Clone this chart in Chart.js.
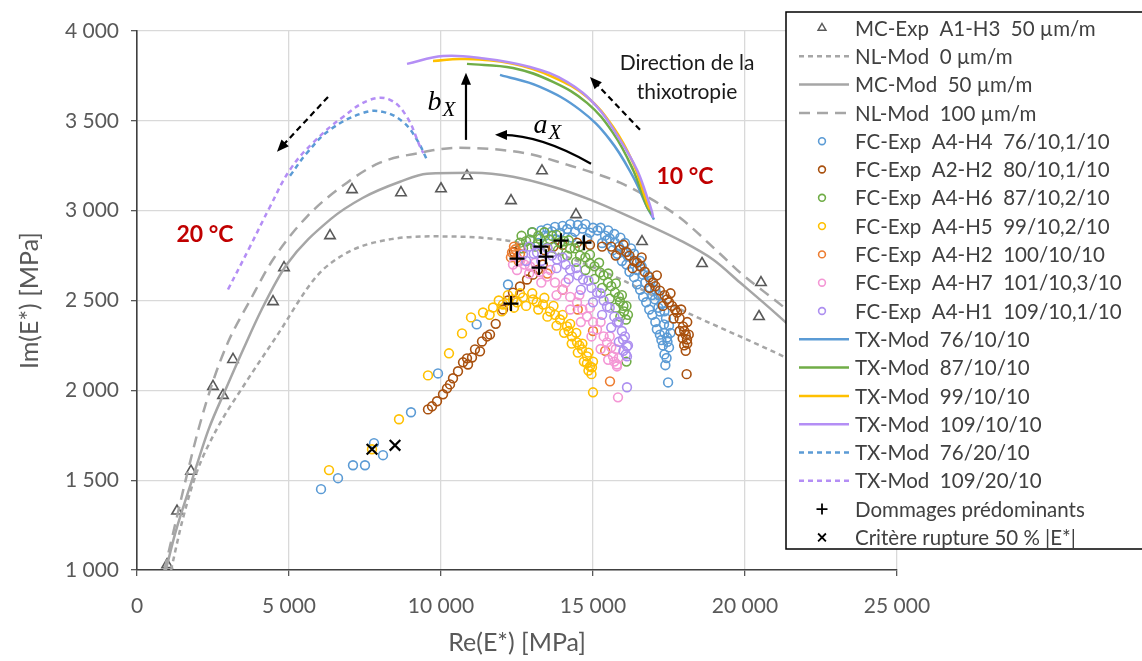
<!DOCTYPE html>
<html><head><meta charset="utf-8">
<script src="https://cdn.jsdelivr.net/npm/chart.js@4.4.1/dist/chart.umd.min.js"></script>
<style>html,body{margin:0;padding:0;background:#fff}canvas{display:block}</style>
</head><body>
<canvas id="c" width="1142" height="661"></canvas>
<script>
// ---------- tick labels ----------
const xTicks = [0, 5000, 10000, 15000, 20000, 25000];
const yTicks = [1000, 1500, 2000, 2500, 3000, 3500, 4000];

// ---------- legend labels ----------
const labels = [
  'MC-Exp  A1-H3  50 µm/m', 'NL-Mod  0 µm/m', 'MC-Mod  50 µm/m', 'NL-Mod  100 µm/m',
  'FC-Exp  A4-H4  76/10,1/10', 'FC-Exp  A2-H2  80/10,1/10', 'FC-Exp  A4-H6  87/10,2/10',
  'FC-Exp  A4-H5  99/10,2/10', 'FC-Exp  A4-H2  100/10/10', 'FC-Exp  A4-H7  101/10,3/10',
  'FC-Exp  A4-H1  109/10,1/10', 'TX-Mod  76/10/10', 'TX-Mod  87/10/10', 'TX-Mod  99/10/10',
  'TX-Mod  109/10/10', 'TX-Mod  76/20/10', 'TX-Mod  109/20/10',
  'Dommages prédominants', 'Critère rupture 50 % |E*|'
];

// ---------- series values [Re, Im] ----------
const mcExp = [[990,1030],[1316,1328],[1776,1550],[2500,2022],[2829,1972],[3158,2172],[4474,2494],[4836,2683],
  [6349,2861],[7072,3117],[8684,3100],[10000,3122],[10855,3194],[12303,3056],[13322,3222],[14441,2978],
  [16612,2828],[18586,2706],[20526,2600],[20461,2411]];
const nlMod0 = [[1120,1000],[1500,1280],[1963,1543],[2620,1783],[3487,2020],[4595,2302],[5910,2635],
  [6898,2765],[7993,2830],[9638,2857],[11283,2850],[12368,2828],[13500,2780],[14500,2720],[15500,2650],
  [16500,2570],[17204,2506],[18092,2433],[18947,2367],[19836,2300],[21000,2210],[22500,2090]];
const mcMod50 = [[950,1000],[1250,1200],[1810,1500],[2350,1780],[2928,2010],[3500,2230],[4101,2450],[4924,2700],
  [6349,2950],[7434,3072],[8651,3161],[9539,3206],[11053,3211],[12368,3189],[13684,3133],[14901,3061],
  [16217,2965],[17862,2835],[18947,2728],[19836,2600],[21000,2430],[22500,2200]];
const nlMod100 = [[900,1000],[1250,1250],[1600,1500],[2050,1800],[2500,2050],[3000,2270],[3717,2500],[4474,2728],
  [5592,2967],[6908,3156],[7993,3267],[9309,3322],[10526,3350],[11941,3339],[13026,3311],[14145,3256],
  [15000,3211],[15888,3156],[16776,3078],[17862,2960],[19178,2760],[19836,2656],[21000,2500],[22500,2300]];

const fcH4 = [[12928,2839],[13421,2861],[13914,2878],[14408,2883],[14901,2878],[15395,2861],[15724,2822],[16053,2772],
  [16382,2717],[16645,2644],[16875,2572],[17039,2506],[17204,2439],[17336,2367],[17434,2294],[17500,2239],
  [13000,2880],[13500,2900],[14000,2915],[14500,2920],[15000,2905],[15500,2890],[15900,2850],[16250,2790],
  [16550,2720],[16800,2640],[17050,2560],[17250,2480],[17400,2400],[17550,2320],
  [13200,2820],[13800,2840],[14300,2850],[14800,2845],[15300,2820],[15650,2780],[15950,2720],[16200,2660],
  [16450,2590],[16650,2520],[16850,2450],[17050,2380],[17200,2310],[17300,2250],[17350,2200],
  [13650,2885],[14150,2898],[14650,2900],[15150,2890],[15550,2845],[15850,2800],[16150,2745],[16450,2670],
  [16720,2600],[16950,2530],[17150,2460],[17350,2320],[17450,2270],[17420,2180],
  [13300,2890],[13750,2910],[14250,2925],[14750,2925],[15250,2905],[15700,2870],[16050,2820],[16350,2760],
  [16600,2690],[16900,2610],[17150,2530],[17350,2440],[17500,2360],[15450,2835],[15800,2760],[16100,2700],
  [16350,2630],[16550,2560],[16750,2490],[16950,2420],[17100,2340],[17250,2280],[17380,2140],
  [17470,2044],[12204,2589],[11174,2367],[9901,2094],[9013,1878],[8092,1639],[7796,1706],[7500,1583],
  [7105,1583],[6612,1511],[6053,1450]];
const fcH2a = [[9572,1894],[9704,1911],[9868,1939],[10066,1978],[10197,2011],[10296,2033],[10395,2067],[10559,2106],
  [10724,2156],[10888,2144],[10855,2178],[11020,2183],[11118,2228],[11283,2217],[11349,2272],[11513,2300],
  [11612,2311],[11800,2370],[12039,2450],[12200,2500],[12368,2544],[12599,2578],[12829,2617],[13026,2644],
  [13191,2672],[13350,2700],[12400,2770],[12600,2790],[13400,2780],[13700,2800],[14000,2810],[14474,2822],
  [14901,2810],[15300,2800],
  [15888,2783],[16200,2750],[16447,2711],[16700,2660],[16974,2600],[17200,2555],[17434,2506],[17600,2470],
  [17763,2433],[17961,2356],[18092,2283],[18050,2310],
  [16000,2810],[16600,2740],[17100,2640],[17550,2540],[17900,2450],[18100,2380],[18150,2310],
  [15750,2750],[16300,2680],[16850,2570],[17300,2470],[17650,2400],[17850,2330],[17950,2290],[18000,2250],
  [15600,2800],[16100,2770],[16350,2720],[16550,2690],[16850,2630],[17050,2580],[17350,2530],[17500,2490],
  [17700,2450],[17850,2400],[18000,2330],[18100,2260],[18050,2220],
  [18080,2090]];
const fcH6 = [[12599,2822],[12928,2839],[13257,2844],[13586,2839],[13914,2822],[14243,2789],[14572,2750],[14901,2706],
  [15230,2656],[15493,2600],[15724,2544],[15888,2494],[16020,2439],[16086,2394],
  [12650,2860],[13000,2880],[13400,2880],[13800,2865],[14200,2835],[14550,2800],[14900,2755],[15200,2710],
  [15500,2650],[15750,2595],[15950,2530],[16100,2470],[16150,2420],
  [12700,2790],[13100,2800],[13500,2795],[13850,2780],[14150,2750],[14450,2715],[14750,2670],[15050,2620],
  [15300,2570],[15550,2510],[15750,2460],[15900,2410],
  [12800,2830],[13200,2860],[13650,2860],[14050,2830],[14400,2790],[14750,2740],[15050,2690],[15350,2640],
  [15600,2580],[15850,2520],[16000,2470],[16100,2160]];
const fcH5 = [[6316,1556],[7730,1672],[8618,1839],[9572,2083],[10263,2206],[10691,2317],[10987,2406],
  [11382,2433],[11711,2461],[12039,2478],[12368,2506],[12697,2517],[13026,2506],[13355,2478],[13586,2439],
  [13914,2394],[14145,2356],[14309,2300],[14474,2267],[14638,2228],[14803,2189],[14901,2133],[14967,2128],
  [11600,2420],[12000,2440],[12400,2460],[12800,2470],[13200,2450],[13500,2410],[13800,2360],[14050,2320],
  [14300,2260],[14500,2210],[14700,2160],[14850,2110],
  [12200,2530],[12600,2540],[13000,2540],[13400,2515],[13700,2470],[14000,2420],[14250,2370],[14450,2320],
  [14650,2260],[14850,2210],[15000,2160],
  [11900,2500],[12500,2490],[13150,2490],[13750,2420],[14200,2330],[14550,2250],[14800,2150],[14950,2090],
  [15000,1989]];
const fcH2b = [[12336,2767],[12500,2739],[12400,2800],[12550,2720],[12300,2740],[12600,2760],[12450,2785],
  [13500,2650],[14000,2560],[14500,2450],[15000,2330],[15400,2220],[15559,2050]];
const fcH7 = [[12368,2700],[12928,2689],[13487,2633],[14013,2561],[14474,2489],[14803,2411],[15132,2339],[15461,2267],
  [15658,2189],[15789,2144],[15789,2133],
  [12600,2720],[13100,2710],[13600,2670],[14100,2600],[14550,2530],[14900,2460],[15250,2380],[15550,2300],
  [15750,2230],[15850,2180],
  [12500,2670],[12900,2650],[13300,2600],[13800,2530],[14250,2450],[14600,2380],[14950,2300],[15250,2230],
  [15500,2170],[12750,2700],[13250,2660],[13750,2600],[14250,2520],[14650,2450],[15000,2380],[15350,2300],
  [15600,2240],[15700,2160],[15822,1961]];
const fcH1 = [[12697,2756],[13158,2767],[13816,2728],[14243,2672],[14671,2617],[15132,2544],[15461,2467],[15789,2378],
  [15987,2283],[16118,2244],[16118,2189],
  [12900,2800],[13500,2790],[14000,2740],[14450,2680],[14850,2610],[15250,2540],[15550,2460],[15850,2380],
  [16050,2300],[16150,2250],
  [12800,2720],[13300,2720],[13800,2680],[14200,2620],[14600,2560],[15000,2490],[15300,2420],[15600,2350],
  [15850,2270],[16000,2220],[13050,2760],[13650,2750],[14100,2700],[14500,2640],[14950,2570],[15350,2500],
  [15700,2410],[15950,2330],[16080,2200],[16118,2017]];

const tx76_10 = [[11941,3756],[13257,3689],[14572,3561],[15559,3394],[16316,3189],[16776,3022],[17007,2950]];
const tx87_10 = [[10855,3817],[12368,3794],[13684,3717],[14803,3600],[15658,3433],[16316,3228],[16776,3022],[16941,2978]];
const tx99_10 = [[9737,3833],[10724,3844],[12368,3817],[13684,3744],[14803,3633],[15658,3467],[16316,3267],[16776,3044],[16875,3006]];
const tx109_10 = [[8882,3817],[10066,3861],[11283,3850],[12928,3800],[14145,3717],[15132,3578],[15888,3394],[16447,3228],[16776,3078],[16941,2994],[16974,2961]];
const tx76_20 = [[5033,3194],[5592,3322],[6349,3450],[7434,3544],[8092,3550],[8750,3494],[9211,3394],[9539,3283]];
const tx109_20 = [[2993,2561],[3717,2800],[4375,3022],[5033,3228],[5789,3378],[6776,3522],[7664,3617],[8322,3617],[8871,3524],[9309,3357],[9419,3320]];

const dommages = [[12500,2733],[13289,2800],[13454,2744],[13224,2683],[13947,2833],[14704,2822],[12303,2483]];
const rupture = [[7730,1672],[8487,1694]];

// ---------- styles ----------
const GRAY = '#a6a6a6';
const C = {blue:'#5b9bd5', brown:'#a9510f', green:'#70ad47', yellow:'#ffc000', orange:'#ed7d31',
  pink:'#f497d5', purple:'#ad8ff0', txPurple:'#b48ef5'};

const pts = a => a.map(p => ({x:p[0], y:p[1]}));
function lineDS(i, data, color, dash, smooth){
  const d = {label:labels[i], data:pts(data), showLine:true, borderColor:color, borderWidth:2.5,
    borderDash:dash||[], pointRadius:0, fill:false, order:100-i};
  if (smooth === 'mono') d.cubicInterpolationMode = 'monotone'; else d.tension = 0.4;
  return d;
}
function scatDS(i, data, color, style, r, bw){
  return {label:labels[i], data:pts(data), showLine:false, borderColor:color, backgroundColor:'rgba(0,0,0,0)',
    pointStyle:style, pointRadius:r, borderWidth:bw, order:100-i};
}
const datasets = [
  scatDS(0, mcExp, '#595959', 'triangle', 6, 1.6),
  lineDS(1, nlMod0, GRAY, [5,4], 'mono'),
  lineDS(2, mcMod50, GRAY, [], 'mono'),
  lineDS(3, nlMod100, GRAY, [11,7], 'mono'),
  scatDS(4, fcH4, C.blue, 'circle', 4.4, 1.6),
  scatDS(5, fcH2a, C.brown, 'circle', 4.4, 1.6),
  scatDS(6, fcH6, C.green, 'circle', 4.4, 1.6),
  scatDS(7, fcH5, C.yellow, 'circle', 4.4, 1.6),
  scatDS(8, fcH2b, C.orange, 'circle', 4.4, 1.6),
  scatDS(9, fcH7, C.pink, 'circle', 4.4, 1.6),
  scatDS(10, fcH1, C.purple, 'circle', 4.4, 1.6),
  lineDS(11, tx76_10, C.blue, []),
  lineDS(12, tx87_10, C.green, []),
  lineDS(13, tx99_10, C.yellow, []),
  lineDS(14, tx109_10, C.txPurple, []),
  lineDS(15, tx76_20, C.blue, [5,4]),
  lineDS(16, tx109_20, C.txPurple, [5,4]),
  scatDS(17, dommages, '#000', 'cross', 7.5, 2.2),
  scatDS(18, rupture, '#000', 'crossRot', 7.5, 2.2),
];

// legend description
const legendItems = [
  {m:'triangle', c:'#595959'}, {l:[5,4], c:GRAY}, {l:[], c:GRAY}, {l:[11,7], c:GRAY},
  {m:'circle', c:C.blue}, {m:'circle', c:C.brown}, {m:'circle', c:C.green}, {m:'circle', c:C.yellow},
  {m:'circle', c:C.orange}, {m:'circle', c:C.pink}, {m:'circle', c:C.purple},
  {l:[], c:C.blue}, {l:[], c:C.green}, {l:[], c:C.yellow}, {l:[], c:C.txPurple},
  {l:[5,4], c:C.blue}, {l:[5,4], c:C.txPurple}, {m:'cross', c:'#000'}, {m:'crossRot', c:'#000'}
];

const FONT = 'Lato, "Open Sans", sans-serif';
const fmt = v => String(v).replace(/\B(?=(\d{3})+(?!\d))/g, ' ');

function arrow(ctx, x1, y1, x2, y2, dash, cx, cy){
  ctx.save();
  ctx.strokeStyle = '#000'; ctx.fillStyle = '#000'; ctx.lineWidth = 2.2;
  ctx.setLineDash(dash || []);
  ctx.beginPath(); ctx.moveTo(x1, y1);
  let ang;
  const hl = 12;
  if (cx !== undefined){
    ang = Math.atan2(y2 - cy, x2 - cx);
    ctx.quadraticCurveTo(cx, cy, x2 - Math.cos(ang)*hl*0.6, y2 - Math.sin(ang)*hl*0.6);
  } else {
    ang = Math.atan2(y2 - y1, x2 - x1);
    ctx.lineTo(x2 - Math.cos(ang)*hl*0.6, y2 - Math.sin(ang)*hl*0.6);
  }
  ctx.stroke();
  ctx.setLineDash([]);
  ctx.beginPath();
  ctx.moveTo(x2, y2);
  ctx.lineTo(x2 - hl*Math.cos(ang) + 5*Math.sin(ang), y2 - hl*Math.sin(ang) - 5*Math.cos(ang));
  ctx.lineTo(x2 - hl*Math.cos(ang) - 5*Math.sin(ang), y2 - hl*Math.sin(ang) + 5*Math.cos(ang));
  ctx.closePath(); ctx.fill();
  ctx.restore();
}
function subText(ctx, main, sub, x, y){
  ctx.save();
  ctx.fillStyle = '#000'; ctx.textBaseline = 'alphabetic'; ctx.textAlign = 'left';
  const f1 = 'italic 28px "Liberation Serif", "DejaVu Serif", serif';
  const f2 = 'italic 21px "Liberation Serif", "DejaVu Serif", serif';
  ctx.font = f1; const w1 = ctx.measureText(main).width;
  ctx.font = f2; const w2 = ctx.measureText(sub).width;
  const x0 = x - (w1 + w2)/2;
  ctx.font = f1; ctx.fillText(main, x0, y);
  ctx.font = f2; ctx.fillText(sub, x0 + w1 + 1, y + 6);
  ctx.restore();
}

const annotPlugin = {
  id: 'annot',
  afterDatasetsDraw(chart){
    const ctx = chart.ctx, xs = chart.scales.x, ys = chart.scales.y;
    const X = v => xs.getPixelForValue(v), Y = v => ys.getPixelForValue(v);
    arrow(ctx, X(10822), Y(3394), X(10822), Y(3767));
    subText(ctx, 'b', 'X', X(10000), Y(3560));
    arrow(ctx, X(14934), Y(3261), X(11776), Y(3422), null, X(13300), Y(3420));
    subText(ctx, 'a', 'X', X(13487), Y(3435));
    arrow(ctx, X(16546), Y(3450), X(14901), Y(3744), [6,4]);
    arrow(ctx, X(6283), Y(3633), X(4605), Y(3328), [6,4]);
    ctx.save();
    ctx.fillStyle = '#1a1a1a'; ctx.textAlign = 'center'; ctx.textBaseline = 'middle';
    ctx.font = '21px ' + FONT;
    ctx.fillText('Direction de la', X(18092), Y(3822));
    ctx.fillText('thixotropie', X(18092), Y(3661));
    ctx.fillStyle = '#c00000'; ctx.font = 'bold 23px ' + FONT;
    ctx.fillText('10 °C', X(18026), Y(3189));
    ctx.fillText('20 °C', X(2237), Y(2867));
    ctx.restore();
  }
};

const legendPlugin = {
  id: 'boxLegend',
  afterDraw(chart){
    const ctx = chart.ctx;
    ctx.save();
    const x0 = 786, y0 = 12, w = 400, h = 537;
    ctx.fillStyle = '#fff'; ctx.fillRect(x0, y0, w, h);
    ctx.strokeStyle = '#000'; ctx.lineWidth = 1.5; ctx.strokeRect(x0, y0, w, h);
    const step = 28.3, top = 28;
    legendItems.forEach((it, i) => {
      const y = top + i*step;
      ctx.save();
      if (it.l){
        ctx.strokeStyle = it.c; ctx.lineWidth = 2.5; ctx.setLineDash(it.l);
        ctx.beginPath(); ctx.moveTo(799, y); ctx.lineTo(849, y); ctx.stroke();
      } else {
        ctx.strokeStyle = it.c; ctx.fillStyle = 'rgba(0,0,0,0)';
        const r = it.m === 'circle' ? 3.4 : (it.m === 'triangle' ? 4.5 : 5.5);
        ctx.lineWidth = it.m === 'circle' ? 1.6 : (it.m === 'triangle' ? 1.5 : 1.8);
        Chart.helpers.drawPoint(ctx, {pointStyle: it.m, radius: r, rotation: 0, borderWidth: ctx.lineWidth}, 822, y);
      }
      ctx.restore();
      ctx.fillStyle = '#404040'; ctx.font = '20.5px ' + FONT;
      ctx.textAlign = 'left'; ctx.textBaseline = 'middle';
      ctx.fillText(labels[i], 855, y + 1);
    });
    ctx.restore();
  }
};

new Chart(document.getElementById('c'), {
  type: 'scatter',
  data: {datasets},
  options: {
    responsive: false, animation: false,
    layout: {padding: {top: 31, right: 245, left: 0, bottom: 0}},
    plugins: {legend: {display: false}, tooltip: {enabled: false}},
    scales: {
      x: {
        type: 'linear', min: 0, max: 25000,
        afterBuildTicks: s => { s.ticks = xTicks.map(v => ({value: v})); },
        afterFit: s => { s.height = 91; },
        grid: {color: '#d9d9d9', lineWidth: 1.3, tickLength: 6, tickColor: '#595959'},
        border: {color: '#404040', width: 1.6},
        ticks: {callback: v => fmt(v), color: '#595959', font: {family: FONT, size: 21}, padding: 18, maxRotation: 0, autoSkip: false},
        title: {display: true, text: 'Re(E*) [MPa]', color: '#595959', font: {family: FONT, size: 25}, padding: {top: 0, bottom: 3}}
      },
      y: {
        type: 'linear', min: 1000, max: 4000,
        afterBuildTicks: s => { s.ticks = yTicks.map(v => ({value: v})); },
        afterFit: s => { s.width = 137; },
        grid: {color: '#d9d9d9', lineWidth: 1.3, tickLength: 6, tickColor: '#595959'},
        border: {color: '#404040', width: 1.6},
        ticks: {callback: v => fmt(v), color: '#595959', font: {family: FONT, size: 21}, padding: 12},
        title: {display: true, text: 'Im(E*) [MPa]', color: '#595959', font: {family: FONT, size: 25}, padding: {top: 15, bottom: 0}}
      }
    }
  },
  plugins: [annotPlugin, legendPlugin]
});
</script>
</body></html>
